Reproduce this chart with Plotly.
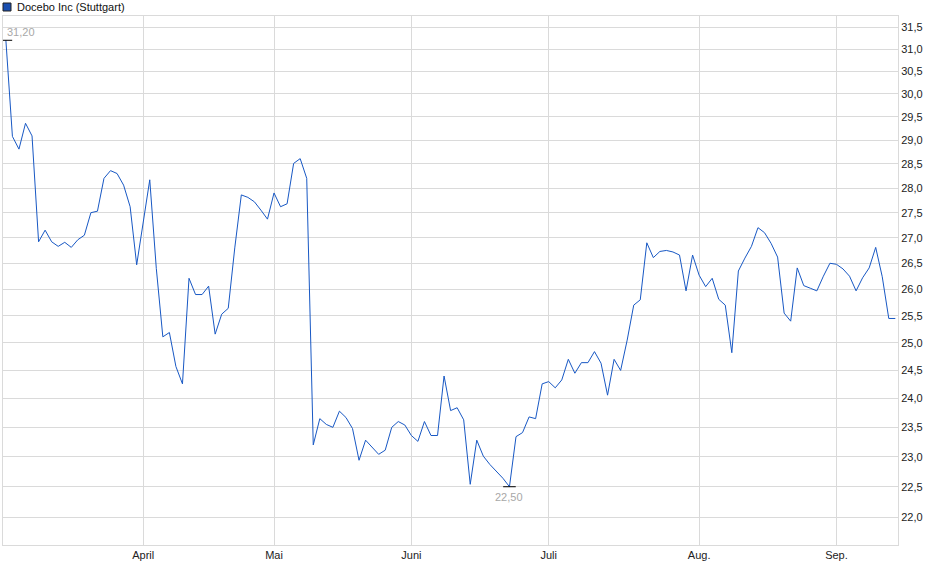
import math
import pandas as pd
import plotly.graph_objects as go

# Docebo Inc, Stuttgart - closing prices (EUR), trading days Mar 3 .. Sep 12
start_day = "2025-03-03"
end_day = "2025-09-12"
holidays = ["2025-04-18", "2025-04-21", "2025-05-01"]

prices = [
    31.20, 29.08, 28.81, 29.36, 29.09, 26.92, 27.15, 26.92, 26.83, 26.91,
    26.81, 26.96, 27.05, 27.50, 27.53, 28.20, 28.36, 28.30, 28.06, 27.62,
    26.47, 27.30, 28.17, 26.40, 25.11, 25.19, 24.57, 24.26, 26.21, 25.90,
    25.90, 26.06, 25.16, 25.53, 25.64, 26.80, 27.86, 27.81, 27.72, 27.55,
    27.37, 27.90, 27.62, 27.68, 28.51, 28.61, 28.20, 23.20, 23.65, 23.55,
    23.50, 23.78, 23.67, 23.48, 22.94, 23.28, 23.16, 23.04, 23.11, 23.50,
    23.60, 23.54, 23.36, 23.26, 23.60, 23.36, 23.36, 24.40, 23.79, 23.84,
    23.63, 22.54, 23.28, 23.01, 22.87, 22.75, 22.64, 22.50, 23.34, 23.41,
    23.68, 23.65, 24.26, 24.30, 24.19, 24.33, 24.70, 24.45, 24.64, 24.64,
    24.84, 24.63, 24.06, 24.70, 24.50, 25.05, 25.70, 25.80, 26.90, 26.61,
    26.73, 26.75, 26.72, 26.66, 25.97, 26.66, 26.27, 26.05, 26.21, 25.81,
    25.70, 24.82, 26.35, 26.60, 26.83, 27.20, 27.10, 26.89, 26.62, 25.55,
    25.40, 26.41, 26.07, 26.02, 25.97, 26.25, 26.50, 26.48, 26.39, 26.25,
    25.97, 26.22, 26.41, 26.81, 26.24, 25.45, 25.45,
]

month_names = ["April", "Mai", "Juni", "Juli", "Aug.", "Sep."]
y_ticks = [22.0, 22.5, 23.0, 23.5, 24.0, 24.5, 25.0, 25.5, 26.0, 26.5,
           27.0, 27.5, 28.0, 28.5, 29.0, 29.5, 30.0, 30.5, 31.0, 31.5]

days = pd.bdate_range(start_day, end_day)
days = days[~days.isin(pd.to_datetime(holidays))]
dates = [d.strftime("%Y-%m-%d") for d in days]

# first trading day of each month from April on
month_starts = []
seen = set()
for d in days:
    if d.month >= 4 and d.month not in seen:
        seen.add(d.month)
        month_starts.append(d.strftime("%Y-%m-%d"))

i_max = prices.index(max(prices))
i_min = prices.index(min(prices))

line_blue = "#1858c4"
grid = "#dadada"
font = "Liberation Sans, Arial, sans-serif"

fig = go.Figure()
fig.add_trace(go.Scatter(x=dates, y=prices, mode="lines",
                         line=dict(color=line_blue, width=1), hoverinfo="x+y"))

# high / low ticks
fig.add_trace(go.Scatter(
    x=[dates[i_max], dates[i_min]], y=[prices[i_max], prices[i_min]], mode="markers",
    marker=dict(symbol="line-ew", size=9, line=dict(color="black", width=1)),
    hoverinfo="skip"))

# high / low labels (log axis -> annotation y in log10)
fig.add_annotation(x=dates[i_max], y=math.log10(prices[i_max]), xref="x", yref="y",
                   text=f"{prices[i_max]:.2f}".replace(".", ","), showarrow=False,
                   xanchor="left", yanchor="bottom", xshift=-1, yshift=0,
                   font=dict(family=font, size=11, color="#a8a8a8"))
fig.add_annotation(x=dates[i_min], y=math.log10(prices[i_min]), xref="x", yref="y",
                   text=f"{prices[i_min]:.2f}".replace(".", ","), showarrow=False,
                   xanchor="center", yanchor="top", yshift=-2,
                   font=dict(family=font, size=11, color="#a8a8a8"))

# legend box + title at top left
fig.add_shape(type="rect", xref="paper", yref="paper",
              x0=0.0, x1=8 / 895, y0=(545 - 11) / 529, y1=(545 - 3) / 529,
              fillcolor="#1a4fb0", line=dict(color="#222", width=1))
fig.add_annotation(text="Docebo Inc (Stuttgart)", xref="paper", yref="paper",
                   x=12 / 895, y=(545 - 7) / 529, xanchor="left", yanchor="middle",
                   showarrow=False, font=dict(family=font, size=11, color="#111"))

fig.update_layout(
    width=940, height=579,
    margin=dict(l=3, r=42, t=16, b=34),
    paper_bgcolor="white", plot_bgcolor="white",
    separators=",.",
    showlegend=False,
    font=dict(family=font, size=11, color="#222"),
)
fig.update_xaxes(
    type="category", range=[-0.44, len(dates) - 1 + 0.41],
    tickmode="array", tickvals=month_starts, ticktext=month_names,
    showgrid=True, gridcolor=grid, gridwidth=1,
    showline=True, linecolor=grid, mirror=True,
    ticks="", tickfont=dict(family=font, size=11, color="#222"),
)
fig.update_yaxes(
    type="log", side="right",
    range=[math.log10(21.56), math.log10(31.76)],
    tickmode="array", tickvals=y_ticks, tickformat=".1f",
    showgrid=True, gridcolor=grid, gridwidth=1,
    showline=True, linecolor=grid, mirror=True,
    ticks="", tickfont=dict(family=font, size=11, color="#222"),
)

# page body has a default 8px margin; drop it so the figure sits at 0,0
fig.write_html("out.html", config={"displayModeBar": False},
               post_script="document.body.style.margin = '0';")
